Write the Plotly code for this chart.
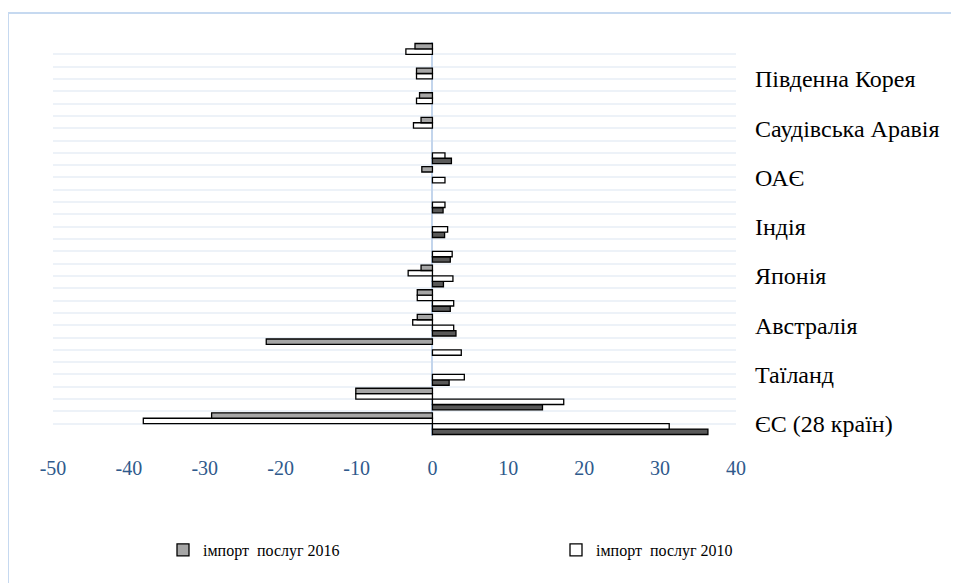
import plotly.graph_objects as go

# categories, bottom (index 0) to top; every other label is shown on the axis
countries = ["ЄС (28 країн)", "", "Таїланд", "", "Австралія", "", "Японія", "",
             "Індія", "", "ОАЄ", "", "Саудівська Аравія", "", "Південна Корея", ""]
export_2016 = [36.3, 14.5, 2.2, None, 3.1, 2.35, 1.45, 2.35, 1.6, 1.4, None, 2.5, None, None, None, None]
export_2010 = [31.2, 17.3, 4.2, 3.8, 2.8, 2.8, 2.7, 2.6, 2.0, 1.65, 1.65, 1.65, None, None, None, None]
import_2010 = [-38.1, -10.1, None, None, -2.6, -2.0, -3.2, None, None, None, None, None, -2.5, -2.1, -2.1, -3.5]
import_2016 = [-29.1, -10.1, None, -21.9, -2.0, -2.0, -1.5, None, None, None, -1.4, None, -1.5, -1.7, -2.1, -2.3]
x_ticks = [-50, -40, -30, -20, -10, 0, 10, 20, 30, 40]
x_ticktext = ["-50", "-40", "-30", "-20", "-10", "0", "10", "20", "30", "40"]

ypos = list(range(len(countries)))
font = "Liberation Serif"
line = dict(color="#000000", width=1.3)

fig = go.Figure()
fig.add_trace(go.Bar(y=ypos, x=export_2016, orientation="h", name="експорт послуг 2016",
                     marker=dict(color="#595959", line=line), showlegend=False))
fig.add_trace(go.Bar(y=ypos, x=export_2010, orientation="h", name="експорт послуг 2010",
                     marker=dict(color="#ffffff", line=line), showlegend=False))
fig.add_trace(go.Bar(y=ypos, x=import_2010, orientation="h", name="імпорт  послуг 2010",
                     marker=dict(color="#ffffff", line=line), legend="legend2"))
fig.add_trace(go.Bar(y=ypos, x=import_2016, orientation="h", name="імпорт  послуг 2016",
                     marker=dict(color="#a6a6a6", line=line), legend="legend"))

n = len(countries)
tickvals = [k * 0.5 - 0.5 for k in range(2 * n + 1)]
ticktext = []
for v in tickvals:
    if float(v).is_integer() and int(v) % 2 == 0:
        ticktext.append(countries[int(v)])
    else:
        ticktext.append("")

# page body adds an 8px offset; size the figure to fit the window
W, H = 951, 575
ml, mr, mt, mb = 45, 223, 34, 147
pw, ph = W - ml - mr, H - mt - mb

def px_x(p):
    return (p - ml) / pw

def px_y(p):
    return (mt + ph - p) / ph

leg_font = dict(family=font, size=16, color="#000000")

fig.update_layout(
    width=W, height=H,
    margin=dict(l=ml, r=mr, t=mt, b=mb, autoexpand=False),
    paper_bgcolor="white", plot_bgcolor="white",
    barmode="group", bargap=0.12, bargroupgap=0,
    font=dict(family=font, color="#000000"),
    xaxis=dict(range=[-50, 40], tickvals=x_ticks, ticktext=x_ticktext, showgrid=False,
               zeroline=True, zerolinecolor="#c3d5ec", zerolinewidth=2,
               showline=False, ticks="", ticklabelstandoff=18,
               tickfont=dict(family=font, size=20, color="#2f5a8c")),
    yaxis=dict(range=[-0.5, n - 0.5], tickvals=tickvals, ticktext=ticktext,
               side="right", showgrid=True, gridcolor="#edf2f8", gridwidth=2,
               zeroline=False, showline=False, ticks="", ticklabelstandoff=18,
               tickfont=dict(family=font, size=24, color="#000000")),
    legend=dict(orientation="h", x=px_x(155), xanchor="left",
                y=px_y(542), yanchor="middle", font=leg_font,
                bgcolor="rgba(0,0,0,0)"),
    legend2=dict(orientation="h", x=px_x(548), xanchor="left",
                 y=px_y(542), yanchor="middle", font=leg_font,
                 bgcolor="rgba(0,0,0,0)"),
    shapes=[dict(type="rect", xref="paper", yref="paper",
                 x0=px_x(0), x1=px_x(948),
                 y0=px_y(600), y1=px_y(5),
                 line=dict(color="#c6d9f0", width=2), fillcolor="rgba(0,0,0,0)",
                 layer="below")],
)

fig.write_html("out.html")
